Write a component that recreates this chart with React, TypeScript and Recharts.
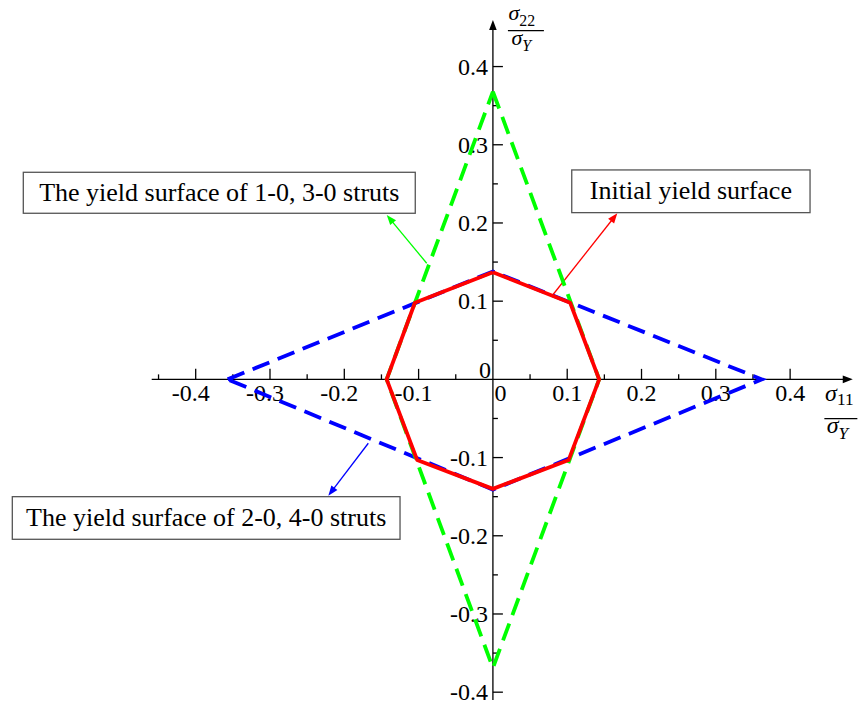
import React from 'react';
import { ScatterChart, Scatter, XAxis, YAxis, ReferenceLine, ReferenceArea } from 'recharts';

const FONT = '"Liberation Serif", "Times New Roman", serif';

// Yield surfaces in normalised stress space (σ11/σY, σ22/σY), closed polygons
const initialX = [0, 0.104, 0.143, 0.102, 0, -0.102, -0.143, -0.105, 0];
const initialY = [0.137, 0.098, 0, -0.103, -0.14, -0.103, 0, 0.098, 0.137];
const struts1030X = [0, 0.143, 0, -0.143, 0];
const struts1030Y = [0.368, 0, -0.369, 0, 0.368];
const struts2040X = [-0.357, 0, 0.362, 0, -0.357];
const struts2040Y = [0, 0.138, 0, -0.141, 0];

// Axis ticks
const xMajorTicks = [-0.4, -0.3, -0.2, -0.1, 0.1, 0.2, 0.3, 0.4];
const xMajorLabels = ['-0.4', '-0.3', '-0.2', '-0.1', '0.1', '0.2', '0.3', '0.4'];
const xMinorTicks = [-0.45, -0.35, -0.25, -0.15, -0.05, 0.05, 0.15, 0.25, 0.35];
const yMajorTicks = [-0.4, -0.3, -0.2, -0.1, 0.1, 0.2, 0.3, 0.4];
const yMajorLabels = ['-0.4', '-0.3', '-0.2', '-0.1', '0.1', '0.2', '0.3', '0.4'];
const yMinorTicks = [-0.35, -0.25, -0.15, -0.05, 0.05, 0.15, 0.25, 0.35];

// Annotations
const noteTexts = [
  'The yield surface of 1-0, 3-0 struts',
  'Initial yield surface',
  'The yield surface of 2-0, 4-0 struts',
];
const noteColors = ['#00ff00', '#ff0000', '#0000ff'];

// Annotation layout (data coordinates)
const noteBoxes = [
  { x1: -0.632, x2: -0.1045, y1: 0.2124, y2: 0.2648 },
  { x1: 0.1061, x2: 0.4268, y1: 0.2132, y2: 0.2678 },
  { x1: -0.6468, x2: -0.125, y1: -0.2045, y2: -0.15 },
];
const noteArrows = [
  { from: { x: -0.0891, y: 0.1485 }, to: { x: -0.1429, y: 0.2102 } },
  { from: { x: 0.0805, y: 0.1079 }, to: { x: 0.1674, y: 0.2124 } },
  { from: { x: -0.1677, y: -0.0817 }, to: { x: -0.2215, y: -0.1487 } },
];

const toPoints = (xs: number[], ys: number[]) => xs.map((x, i) => ({ x, y: ys[i] }));
const initialSurface = toPoints(initialX, initialY);
const surface1030 = toPoints(struts1030X, struts1030Y);
const surface2040 = toPoints(struts2040X, struts2040Y);

const NoMarker = () => <g />;

function headPoints(x1: number, y1: number, x2: number, y2: number, len: number, half: number) {
  const dx = x2 - x1;
  const dy = y2 - y1;
  const d = Math.hypot(dx, dy) || 1;
  const ux = dx / d;
  const uy = dy / d;
  const nx = -uy;
  const ny = ux;
  const bx = x2 - ux * len;
  const by = y2 - uy * len;
  return {
    pts: `${x2},${y2} ${bx + nx * half},${by + ny * half} ${bx - nx * half},${by - ny * half}`,
    sx: x2 - ux * len * 0.7,
    sy: y2 - uy * len * 0.7,
  };
}

const Arrow = (props: any) => {
  const { x1, y1, x2, y2, color, width, len, half } = props;
  const h = headPoints(x1, y1, x2, y2, len, half);
  return (
    <g>
      <line x1={x1} y1={y1} x2={h.sx} y2={h.sy} stroke={color} strokeWidth={width} />
      <polygon points={h.pts} fill={color} stroke="none" />
    </g>
  );
};

const Fraction = (props: any) => {
  const { nx, ny, sub, subDy, barX1, barX2, barY, dx, dy, dsubDy, size } = props;
  return (
    <g fontFamily={FONT} fill="#000">
      <text x={nx} y={ny} fontSize={size}>
        <tspan fontStyle="italic">σ</tspan>
        <tspan fontSize={size * 0.72} dy={subDy}>{sub}</tspan>
      </text>
      <line x1={barX1} y1={barY} x2={barX2} y2={barY} stroke="#000" strokeWidth={1.1} />
      <text x={dx} y={dy} fontSize={size}>
        <tspan fontStyle="italic">σ</tspan>
        <tspan fontSize={size * 0.72} fontStyle="italic" dy={dsubDy}>Y</tspan>
      </text>
    </g>
  );
};

const XAxisShape = (props: any) => {
  const { x1, y1, x2, y2 } = props;
  return (
    <g>
      <Arrow x1={x1} y1={y1} x2={x2} y2={y2} color="#000" width={1.3} len={10} half={3.8} />
      <Fraction
        size={24}
        nx={x2 - 27.7} ny={y2 + 21.7} sub="11" subDy={3.5}
        barX1={x2 - 28.4} barX2={x2 + 4.6} barY={y2 + 39.3}
        dx={x2 - 26} dy={y2 + 54} dsubDy={5.5}
      />
    </g>
  );
};

const YAxisShape = (props: any) => {
  const { x1, y1, x2, y2 } = props;
  return (
    <g>
      <Arrow x1={x1} y1={y1} x2={x2} y2={y2} color="#000" width={1.3} len={10} half={3.8} />
      <Fraction
        size={22}
        nx={x2 + 15.5} ny={y2 + 0.5} sub="22" subDy={5.5}
        barX1={x2 + 15} barX2={x2 + 51} barY={y2 + 10.7}
        dx={x2 + 18.5} dy={y2 + 25} dsubDy={6.5}
      />
    </g>
  );
};

const labelStyle = { fontFamily: FONT, fontSize: 24, fill: '#000' };

const XTick = (props: any) => {
  const { x1, y1, len, label } = props;
  const shift = label && label.startsWith('-') ? -5 : 0;
  return (
    <g>
      <line x1={x1} y1={y1} x2={x1} y2={y1 - len} stroke="#000" strokeWidth={1.3} />
      {label ? (
        <text x={x1 + shift} y={y1 + 22} textAnchor="middle" style={labelStyle}>{label}</text>
      ) : null}
    </g>
  );
};

const YTick = (props: any) => {
  const { x1, y1, len, label } = props;
  return (
    <g>
      <line x1={x1} y1={y1} x2={x1 + len} y2={y1} stroke="#000" strokeWidth={1.3} />
      {label ? (
        <text x={x1 - 5} y={y1 + 8} textAnchor="end" style={labelStyle}>{label}</text>
      ) : null}
    </g>
  );
};

const OriginLabels = (props: any) => {
  const { x1, y1 } = props;
  return (
    <g>
      <text x={x1 + 7.6} y={y1 + 22} textAnchor="middle" style={labelStyle}>0</text>
      <text x={x1 - 2} y={y1 - 1.5} textAnchor="end" style={labelStyle}>0</text>
    </g>
  );
};

const NoteBox = (props: any) => {
  const { x, y, width, height, text } = props;
  return (
    <g>
      <rect x={x} y={y} width={width} height={height} fill="#fff" stroke="#555" strokeWidth={1.3} />
      <text x={x + width / 2} y={y + height / 2 + 8} textAnchor="middle" fontFamily={FONT} fontSize={26} fill="#000">
        {text}
      </text>
    </g>
  );
};

export default function App() {
  return (
    <div style={{ position: 'absolute', left: 0, top: 0, width: 862, height: 706, background: '#fff' }}>
      <ScatterChart width={862} height={706} margin={{ top: 4, right: 5, bottom: 6, left: 2.5 }}>
        <XAxis type="number" dataKey="x" domain={[-0.66, 0.49]} allowDataOverflow hide />
        <YAxis type="number" dataKey="y" domain={[-0.41, 0.48]} allowDataOverflow hide />

        <ReferenceLine
          segment={[{ x: -0.4592, y: 0 }, { x: 0.4843, y: 0 }]}
          ifOverflow="visible"
          shape={(p: any) => <XAxisShape {...p} />}
        />
        <ReferenceLine
          segment={[{ x: 0, y: -0.41 }, { x: 0, y: 0.4596 }]}
          ifOverflow="visible"
          shape={(p: any) => <YAxisShape {...p} />}
        />
        <ReferenceLine
          segment={[{ x: 0, y: 0 }, { x: 0, y: 0 }]}
          ifOverflow="visible"
          shape={(p: any) => <OriginLabels {...p} />}
        />
        {xMajorTicks.map((v, i) => (
          <ReferenceLine
            key={`xM${v}`}
            segment={[{ x: v, y: 0 }, { x: v, y: 0 }]}
            ifOverflow="visible"
            shape={(p: any) => <XTick {...p} len={10.5} label={xMajorLabels[i]} />}
          />
        ))}
        {xMinorTicks.map((v) => (
          <ReferenceLine
            key={`xm${v}`}
            segment={[{ x: v, y: 0 }, { x: v, y: 0 }]}
            ifOverflow="visible"
            shape={(p: any) => <XTick {...p} len={5} />}
          />
        ))}
        {yMajorTicks.map((v, i) => (
          <ReferenceLine
            key={`yM${v}`}
            segment={[{ x: 0, y: v }, { x: 0, y: v }]}
            ifOverflow="visible"
            shape={(p: any) => <YTick {...p} len={10} label={yMajorLabels[i]} />}
          />
        ))}
        {yMinorTicks.map((v) => (
          <ReferenceLine
            key={`ym${v}`}
            segment={[{ x: 0, y: v }, { x: 0, y: v }]}
            ifOverflow="visible"
            shape={(p: any) => <YTick {...p} len={5} />}
          />
        ))}

        <Scatter
          data={surface2040}
          fill="#0000ff"
          line={{ stroke: '#0000ff', strokeWidth: 3.8, strokeDasharray: '18 9' }}
          shape={NoMarker}
          isAnimationActive={false}
        />
        <Scatter
          data={surface1030}
          fill="#00ff00"
          line={{ stroke: '#00ff00', strokeWidth: 3.8, strokeDasharray: '18 9' }}
          shape={NoMarker}
          isAnimationActive={false}
        />
        <Scatter
          data={initialSurface}
          fill="#ff0000"
          line={{ stroke: '#ff0000', strokeWidth: 3.8, strokeLinejoin: 'round' }}
          shape={NoMarker}
          isAnimationActive={false}
        />

        {noteBoxes.map((b, i) => (
          <ReferenceArea
            key={`box${i}`}
            x1={b.x1}
            x2={b.x2}
            y1={b.y1}
            y2={b.y2}
            ifOverflow="visible"
            shape={(p: any) => <NoteBox {...p} text={noteTexts[i]} />}
          />
        ))}
        {noteArrows.map((a, i) => (
          <ReferenceLine
            key={`arr${i}`}
            segment={[a.from, a.to]}
            ifOverflow="visible"
            shape={(p: any) => <Arrow {...p} color={noteColors[i]} width={1.3} len={10} half={3.8} />}
          />
        ))}
      </ScatterChart>
    </div>
  );
}
